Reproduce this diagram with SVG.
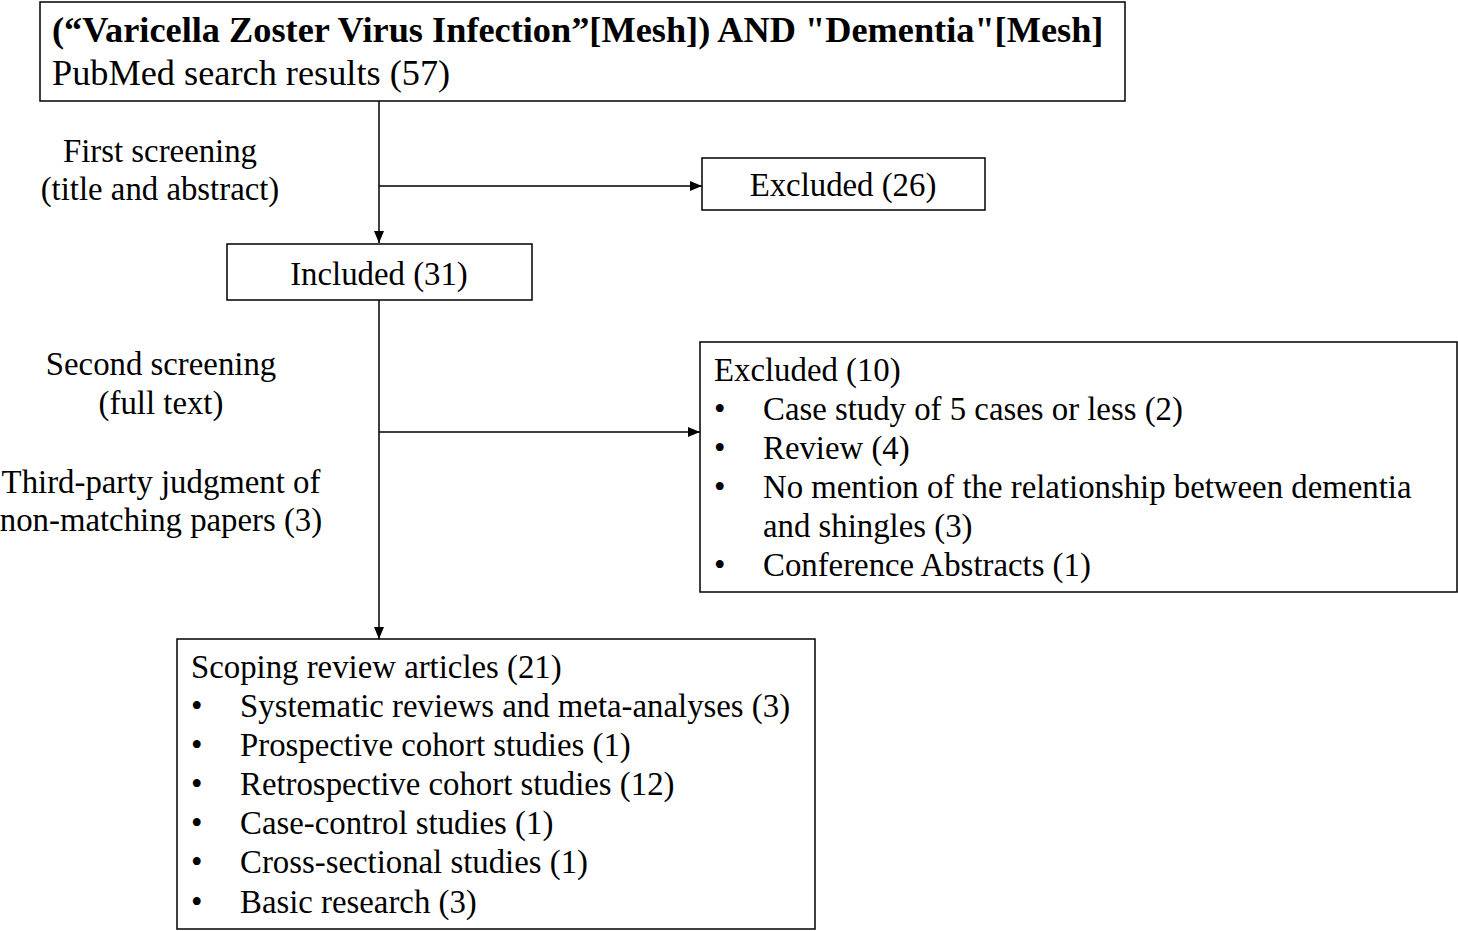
<svg xmlns="http://www.w3.org/2000/svg" width="1458" height="931" viewBox="0 0 1458 931">
<style>
text{font-family:"Liberation Serif","Times New Roman",serif;font-size:32.8px;fill:#000}
.t{font-size:36.3px}
.b{font-weight:bold}
.m{text-anchor:middle}
rect{fill:#fff;stroke:#000;stroke-width:1.5}
.c line{stroke:#000;stroke-width:1.5}
</style>
<defs>
<marker id="ah" viewBox="0 0 12 10" refX="12" refY="5" markerWidth="12" markerHeight="10" markerUnits="userSpaceOnUse" orient="auto">
<path d="M0,0 L12,5 L0,10 z" fill="#000"/>
</marker>
</defs>
<g class="c" id="connectors">
<line x1="379" y1="101" x2="379" y2="243" marker-end="url(#ah)"/>
<line x1="379" y1="186" x2="702" y2="186" marker-end="url(#ah)"/>
<line x1="379" y1="300" x2="379" y2="639" marker-end="url(#ah)"/>
<line x1="379" y1="432" x2="700" y2="432" marker-end="url(#ah)"/>
</g>
<g id="search">
<rect x="40" y="2" width="1085" height="99"/>
<text class="t b" x="52" y="42">(“Varicella Zoster Virus Infection”[Mesh]) AND "Dementia"[Mesh]</text>
<text class="t" x="52" y="85">PubMed search results (57)</text>
</g>
<g id="label1">
<text class="m" x="160" y="162">First screening</text>
<text class="m" x="160" y="200">(title and abstract)</text>
</g>
<g id="excluded26">
<rect x="702" y="158" width="283" height="52"/>
<text class="m" x="843" y="196">Excluded (26)</text>
</g>
<g id="included">
<rect x="227" y="244" width="305" height="56"/>
<text class="m" x="379" y="285">Included (31)</text>
</g>
<g id="label2">
<text class="m" x="161" y="375">Second screening</text>
<text class="m" x="161" y="414">(full text)</text>
<text class="m" x="161" y="493">Third-party judgment of</text>
<text class="m" x="161" y="531">non-matching papers (3)</text>
</g>
<g id="excluded10">
<rect x="700" y="342" width="757" height="250"/>
<text x="714" y="381">Excluded (10)</text>
<text x="714" y="420">•</text><text x="763" y="420">Case study of 5 cases or less (2)</text>
<text x="714" y="459">•</text><text x="763" y="459">Review (4)</text>
<text x="714" y="498">•</text><text x="763" y="498">No mention of the relationship between dementia</text>
<text x="763" y="537">and shingles (3)</text>
<text x="714" y="576">•</text><text x="763" y="576">Conference Abstracts (1)</text>
</g>
<g id="scoping">
<rect x="177" y="639" width="638" height="290"/>
<text x="191" y="678">Scoping review articles (21)</text>
<text x="191" y="717">•</text><text x="240" y="717">Systematic reviews and meta-analyses (3)</text>
<text x="191" y="756">•</text><text x="240" y="756">Prospective cohort studies (1)</text>
<text x="191" y="795">•</text><text x="240" y="795">Retrospective cohort studies (12)</text>
<text x="191" y="834">•</text><text x="240" y="834">Case-control studies (1)</text>
<text x="191" y="873">•</text><text x="240" y="873">Cross-sectional studies (1)</text>
<text x="191" y="913">•</text><text x="240" y="913">Basic research (3)</text>
</g>
</svg>
